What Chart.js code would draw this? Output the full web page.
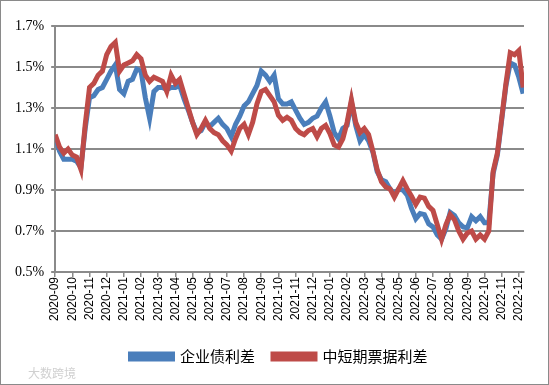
<!DOCTYPE html>
<html>
<head>
<meta charset="utf-8">
<script src="https://cdn.jsdelivr.net/npm/chart.js@4.4.1/dist/chart.umd.min.js"></script>
<style>
html, body { margin: 0; padding: 0; background: #fff; }
#wrap { width: 549px; height: 385px; box-sizing: border-box; border: 1px solid #8a8a8a; position: relative; }
</style>
</head>
<body>
<div id="wrap"><canvas id="chart"></canvas></div>
<script>
// month ticks, one per month start
const monthLabels = [
    '2020-09', '2020-10', '2020-11', '2020-12',
    '2021-01', '2021-02', '2021-03', '2021-04', '2021-05', '2021-06',
    '2021-07', '2021-08', '2021-09', '2021-10', '2021-11', '2021-12',
    '2022-01', '2022-02', '2022-03', '2022-04', '2022-05', '2022-06',
    '2022-07', '2022-08', '2022-09', '2022-10', '2022-11', '2022-12'
];

// values, one every quarter month (%)
const step = 0.25;
const corpBond = [
    1.16, 1.09, 1.05, 1.05, 1.05, 1.04, 1.01, 1.20, 1.35, 1.36,
    1.39, 1.40, 1.44, 1.48, 1.51, 1.39, 1.37, 1.43, 1.44, 1.49,
    1.48, 1.35, 1.25, 1.38, 1.40, 1.40, 1.39, 1.40, 1.40, 1.41,
    1.345, 1.29, 1.23, 1.18, 1.19, 1.23, 1.21, 1.23, 1.25, 1.22,
    1.20, 1.16, 1.22, 1.26, 1.31, 1.33, 1.37, 1.41, 1.48, 1.46,
    1.43, 1.46, 1.345, 1.32, 1.32, 1.33, 1.29, 1.25, 1.22, 1.23,
    1.25, 1.26, 1.30, 1.33, 1.26, 1.18, 1.15, 1.20, 1.215, 1.33,
    1.215, 1.14, 1.17, 1.14, 1.085, 0.99, 0.95, 0.94, 0.905, 0.88,
    0.905, 0.90, 0.875, 0.81, 0.76, 0.785, 0.78, 0.735, 0.72, 0.68,
    0.66, 0.71, 0.79, 0.775, 0.74, 0.72, 0.715, 0.77, 0.75, 0.77,
    0.74, 0.74, 0.98, 1.07, 1.24, 1.41, 1.52, 1.51, 1.45, 1.37
];
const mtnNote = [
    1.17, 1.11, 1.08, 1.10, 1.07, 1.06, 1.00, 1.22, 1.40, 1.42,
    1.46, 1.48, 1.56, 1.60, 1.62, 1.48, 1.51, 1.52, 1.53, 1.56,
    1.54, 1.46, 1.43, 1.45, 1.44, 1.43, 1.38, 1.46, 1.42, 1.44,
    1.37, 1.30, 1.23, 1.17, 1.20, 1.24, 1.20, 1.18, 1.17, 1.14,
    1.12, 1.09, 1.15, 1.20, 1.22, 1.17, 1.23, 1.32, 1.38, 1.39,
    1.36, 1.33, 1.265, 1.24, 1.255, 1.24, 1.20, 1.18, 1.17, 1.19,
    1.20, 1.16, 1.20, 1.215, 1.175, 1.12, 1.11, 1.15, 1.23, 1.34,
    1.23, 1.18, 1.20, 1.17, 1.09, 1.00, 0.94, 0.915, 0.905, 0.865,
    0.905, 0.945, 0.905, 0.87, 0.83, 0.865, 0.86, 0.82, 0.80, 0.73,
    0.66, 0.73, 0.78, 0.755, 0.70, 0.66, 0.69, 0.70, 0.66, 0.68,
    0.66, 0.70, 0.99, 1.08, 1.25, 1.42, 1.57, 1.56, 1.58, 1.40
];

const blue = '#4a7ebb';
const red = '#be4b48';
const gridGray = '#8a8a8a';

function toPoints(values) {
    return values.map((v, i) => ({ x: i * step, y: v }));
}

// faint source mark in the lower left corner, and legend nudged right
const extras = {
    id: 'extras',
    afterLayout(chart) {
        chart.legend.left += 13;
        chart.legend.right += 13;
    },
    afterDraw(chart) {
        const c = chart.ctx;
        c.save();
        c.fillStyle = '#d0d0d0';
        c.font = '12px "Noto Sans CJK SC"';
        c.textBaseline = 'middle';
        c.fillText('大数跨境', 27, 372);
        c.restore();
    }
};

const ctx = document.getElementById('chart').getContext('2d');
const myChart = new Chart(ctx, {
    type: 'line',
    data: {
        datasets: [
            {
                label: '企业债利差',
                data: toPoints(corpBond),
                borderColor: blue,
                backgroundColor: blue,
                borderWidth: 5,
                pointRadius: 0,
                tension: 0,
                order: 1
            },
            {
                label: '中短期票据利差',
                data: toPoints(mtnNote),
                borderColor: red,
                backgroundColor: red,
                borderWidth: 5,
                pointRadius: 0,
                tension: 0,
                order: 0
            }
        ]
    },
    options: {
        responsive: true,
        maintainAspectRatio: false,
        animation: false,
        layout: { padding: { left: 7, right: 24, top: 25, bottom: 10 } },
        scales: {
            x: {
                type: 'linear',
                min: 0,
                max: 27.3,
                afterBuildTicks: axis => {
                    axis.ticks = monthLabels.map((l, i) => ({ value: i }));
                },
                afterFit: axis => { axis.height += 10; },
                ticks: {
                    autoSkip: false,
                    minRotation: 90,
                    maxRotation: 90,
                    padding: 0,
                    color: '#000',
                    font: { family: 'Liberation Sans', size: 12 },
                    callback: (v, i) => monthLabels[i]
                },
                grid: { drawOnChartArea: false, drawTicks: true, tickLength: 5, color: gridGray, lineWidth: 1.5 },
                border: { color: gridGray, width: 2 }
            },
            y: {
                min: 0.5,
                max: 1.7,
                ticks: {
                    stepSize: 0.2,
                    padding: 7,
                    color: '#000',
                    font: { family: 'Liberation Serif', size: 14 },
                    callback: v => v.toFixed(1) + '%'
                },
                grid: { color: gridGray, lineWidth: 2, tickLength: 4 },
                border: { color: gridGray, width: 2 }
            }
        },
        plugins: {
            legend: {
                position: 'bottom',
                labels: {
                    boxWidth: 42,
                    boxHeight: 5,
                    padding: 18,
                    color: '#000',
                    font: { family: 'Noto Sans CJK SC', size: 15 },
                    sort: (a, b) => a.datasetIndex - b.datasetIndex
                }
            },
            tooltip: { enabled: false }
        }
    },
    plugins: [extras]
});
</script>
</body>
</html>
